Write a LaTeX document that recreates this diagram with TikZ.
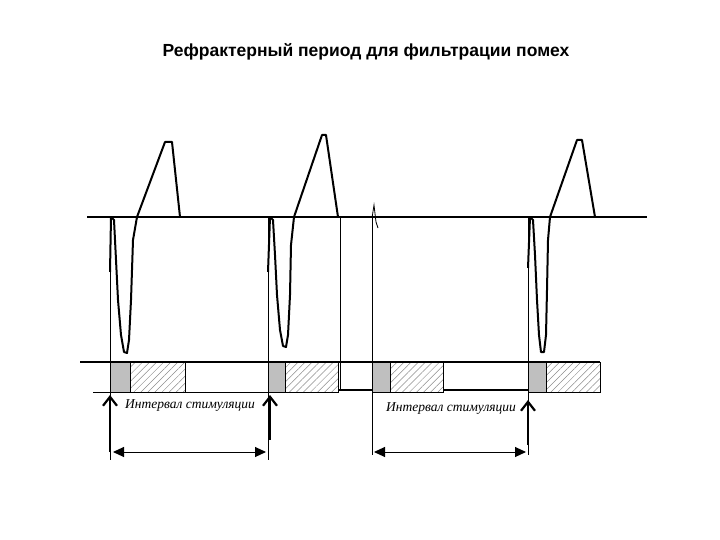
\documentclass[tikz,border=0pt]{standalone}
\usepackage{fontspec}
\setmainfont{Liberation Serif}
\newfontfamily\titlefont{Liberation Sans}
\usetikzlibrary{patterns,patterns.meta,arrows.meta}
\begin{document}
\begin{tikzpicture}[x=1pt,y=-1pt,
  sig/.style={line width=2pt,line join=round},
  thin/.style={line width=0.8pt},
  gray box/.style={fill=black!25,draw=black,line width=0.8pt},
  hatch box/.style={pattern={Lines[angle=45,distance=5pt,line width=0.5pt]},pattern color=black!45,draw=black,line width=0.8pt},
  lbl/.style={font=\itshape\fontsize{13.5}{13.5}\selectfont,inner sep=0pt},
  upar/.style={line width=2.2pt,-{Straight Barb[length=9pt,width=14pt,line width=2.2pt]}},
  dimar/.style={line width=1pt,{Triangle[length=11pt,width=10pt]}-{Triangle[length=11pt,width=10pt]}}]
\useasboundingbox (0,0) rectangle (720,540);
\node[font=\titlefont\bfseries\fontsize{17.5}{17.5}\selectfont] (title) at (366,52) {Рефрактерный период для фильтрации помех};
% baseline
\draw[sig] (87,217) -- (647,217);
% spikes
\draw[sig] (110,272) -- (111,217) -- (114,220) -- (116,260) -- (118,300) -- (121,335) -- (124,352) -- (127,353) -- (129,340) -- (131,300) -- (133,240) -- (137,217) -- (165,142) -- (172,142) -- (180,217);
\draw[sig] (268,272) -- (270,217) -- (273,220) -- (275,255) -- (277,295) -- (280,330) -- (283,346) -- (286,347) -- (288,335) -- (290,295) -- (291,245) -- (294,217) -- (322,135) -- (326,135) -- (338,217);
\draw[thick] (372,218) -- (374,205) -- (376,222) -- (378,228);
\draw[sig] (528,268) -- (530,217) -- (533,220) -- (535,255) -- (537,300) -- (539,335) -- (541,352) -- (544,352) -- (546,335) -- (547,290) -- (548,240) -- (550,217) -- (577,140) -- (582,140) -- (595,217);
% vertical thin lines
\draw[thin] (110,217) -- (110,460);
\draw[thin] (268,217) -- (268,460);
\draw[thin] (340,217) -- (340,390);
\draw[thin] (372,217) -- (372,455);
\draw[thin] (528,217) -- (528,455);
% bar
\draw[gray box] (110,362) rectangle (130,392);
\draw[hatch box] (130,362) rectangle (185,392);
\draw[thin] (185,362) rectangle (268,392);
\draw[gray box] (268,362) rectangle (285,392);
\draw[hatch box] (285,362) rectangle (338,392);
\draw[gray box] (372,362) rectangle (390,392);
\draw[hatch box] (390,362) rectangle (443,392);
\draw[thin] (443,362) -- (443,390);
\draw[gray box] (528,362) rectangle (546,392);
\draw[hatch box] (546,362) rectangle (600,392);
\draw[line width=1.2pt] (80,362) -- (600,362);
\draw[thin] (93,392) -- (338,392);
\draw[line width=1.2pt] (338,390) -- (372,390);
\draw[line width=1.2pt] (443,390) -- (528,390);
% labels
\node[lbl] (l1) at (190,406) {Интервал стимуляции};
\node[lbl] (l2) at (451,409) {Интервал стимуляции};
% arrows
\coordinate (a1s) at (110,452); \coordinate (a1e) at (110,395);
\coordinate (a2s) at (270,440); \coordinate (a2e) at (270,395);
\coordinate (a3s) at (528,445); \coordinate (a3e) at (528,400);
\draw[upar] (a1s) -- (a1e);
\draw[upar] (a2s) -- (a2e);
\draw[upar] (a3s) -- (a3e);
\coordinate (d1s) at (113,452); \coordinate (d1e) at (266,452);
\coordinate (d2s) at (374,452); \coordinate (d2e) at (526,452);
\draw[dimar] (d1s) -- (d1e);
\draw[dimar] (d2s) -- (d2e);
\end{tikzpicture}
\end{document}
